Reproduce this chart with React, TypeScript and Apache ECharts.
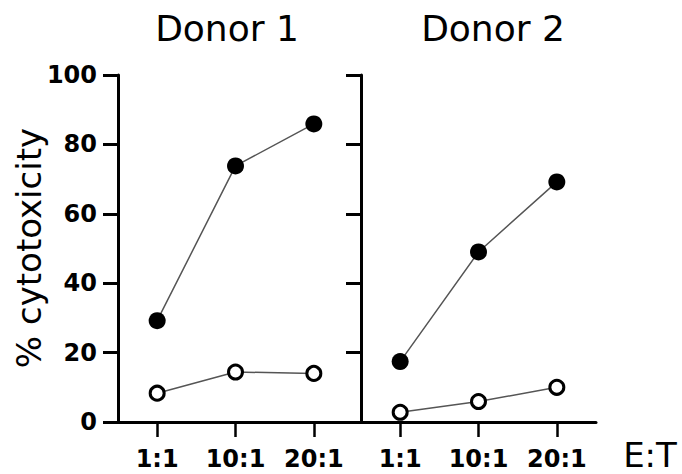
import React, { useEffect, useRef } from "react";
import * as echarts from "echarts";

const categories = ["1:1", "10:1", "20:1"];
const donor1Filled = [29.2, 73.8, 85.9];
const donor1Open = [8.3, 14.4, 14.0];
const donor2Filled = [17.4, 49.0, 69.2];
const donor2Open = [2.8, 5.9, 10.0];
const panelTitles = ["Donor 1", "Donor 2"];
const yAxisTitle = "% cytotoxicity";
const xAxisTitle = "E:T";

const FONT = "DejaVu Sans";

export default function App() {
  const ref = useRef<HTMLDivElement>(null);
  useEffect(() => {
    if (!ref.current) return;
    const chart = echarts.init(ref.current, null, { renderer: "svg" });
    const axisLine = { show: true, lineStyle: { color: "#000", width: 3 } };
    const xAxisBase = (gridIndex: number) => ({
      type: "category" as const,
      gridIndex,
      data: categories,
      boundaryGap: true,
      axisLine,
      axisTick: {
        show: true,
        alignWithLabel: true,
        length: 15,
        lineStyle: { color: "#000", width: 2.5 },
      },
      axisLabel: {
        show: true,
        color: "#000",
        fontFamily: FONT,
        fontWeight: "bold" as const,
        fontSize: 24,
        margin: 25,
      },
      splitLine: { show: false },
    });
    const yAxisBase = (gridIndex: number, showLabel: boolean) => ({
      type: "value" as const,
      gridIndex,
      min: 0,
      max: 100,
      interval: 20,
      axisLine,
      axisTick: {
        show: true,
        length: 15,
        lineStyle: { color: "#000", width: 3 },
      },
      axisLabel: {
        show: showLabel,
        color: "#000",
        fontFamily: FONT,
        fontWeight: "bold" as const,
        fontSize: 24,
        margin: 21,
      },
      splitLine: { show: false },
    });
    const lineStyle = { color: "#555", width: 1.5 };
    const filled = (data: number[], idx: number) => ({
      type: "line" as const,
      xAxisIndex: idx,
      yAxisIndex: idx,
      data,
      symbol: "circle",
      symbolSize: 17,
      lineStyle,
      itemStyle: { color: "#000" },
      z: 3,
    });
    const open = (data: number[], idx: number) => ({
      type: "line" as const,
      xAxisIndex: idx,
      yAxisIndex: idx,
      data,
      symbol: "circle",
      symbolSize: 14,
      lineStyle,
      itemStyle: { color: "#fff", borderColor: "#000", borderWidth: 3 },
      z: 3,
    });
    chart.setOption({
      animation: false,
      grid: [
        { left: 118, top: 75, width: 235, height: 347 },
        { left: 361, top: 75, width: 235, height: 347 },
      ],
      xAxis: [xAxisBase(0), xAxisBase(1)],
      yAxis: [yAxisBase(0, true), yAxisBase(1, false)],
      series: [
        filled(donor1Filled, 0),
        open(donor1Open, 0),
        filled(donor2Filled, 1),
        open(donor2Open, 1),
      ],
      graphic: [
        {
          type: "text",
          x: 227,
          y: 28,
          style: {
            text: panelTitles[0],
            fontFamily: FONT,
            fontSize: 36,
            fill: "#000",
            align: "center",
            verticalAlign: "middle",
          },
        },
        {
          type: "text",
          x: 493,
          y: 28,
          style: {
            text: panelTitles[1],
            fontFamily: FONT,
            fontSize: 36,
            fill: "#000",
            align: "center",
            verticalAlign: "middle",
          },
        },
        {
          type: "text",
          x: 29,
          y: 248,
          rotation: Math.PI / 2,
          style: {
            text: yAxisTitle,
            fontFamily: FONT,
            fontSize: 34,
            fill: "#000",
            align: "center",
            verticalAlign: "middle",
          },
        },
        {
          type: "text",
          x: 650,
          y: 455,
          style: {
            text: xAxisTitle,
            fontFamily: FONT,
            fontSize: 34,
            fill: "#000",
            align: "center",
            verticalAlign: "middle",
          },
        },
      ],
    });
    return () => chart.dispose();
  }, []);
  return (
    <div
      ref={ref}
      style={{ position: "fixed", left: 0, top: 0, width: 682, height: 474, background: "#fff" }}
    />
  );
}
